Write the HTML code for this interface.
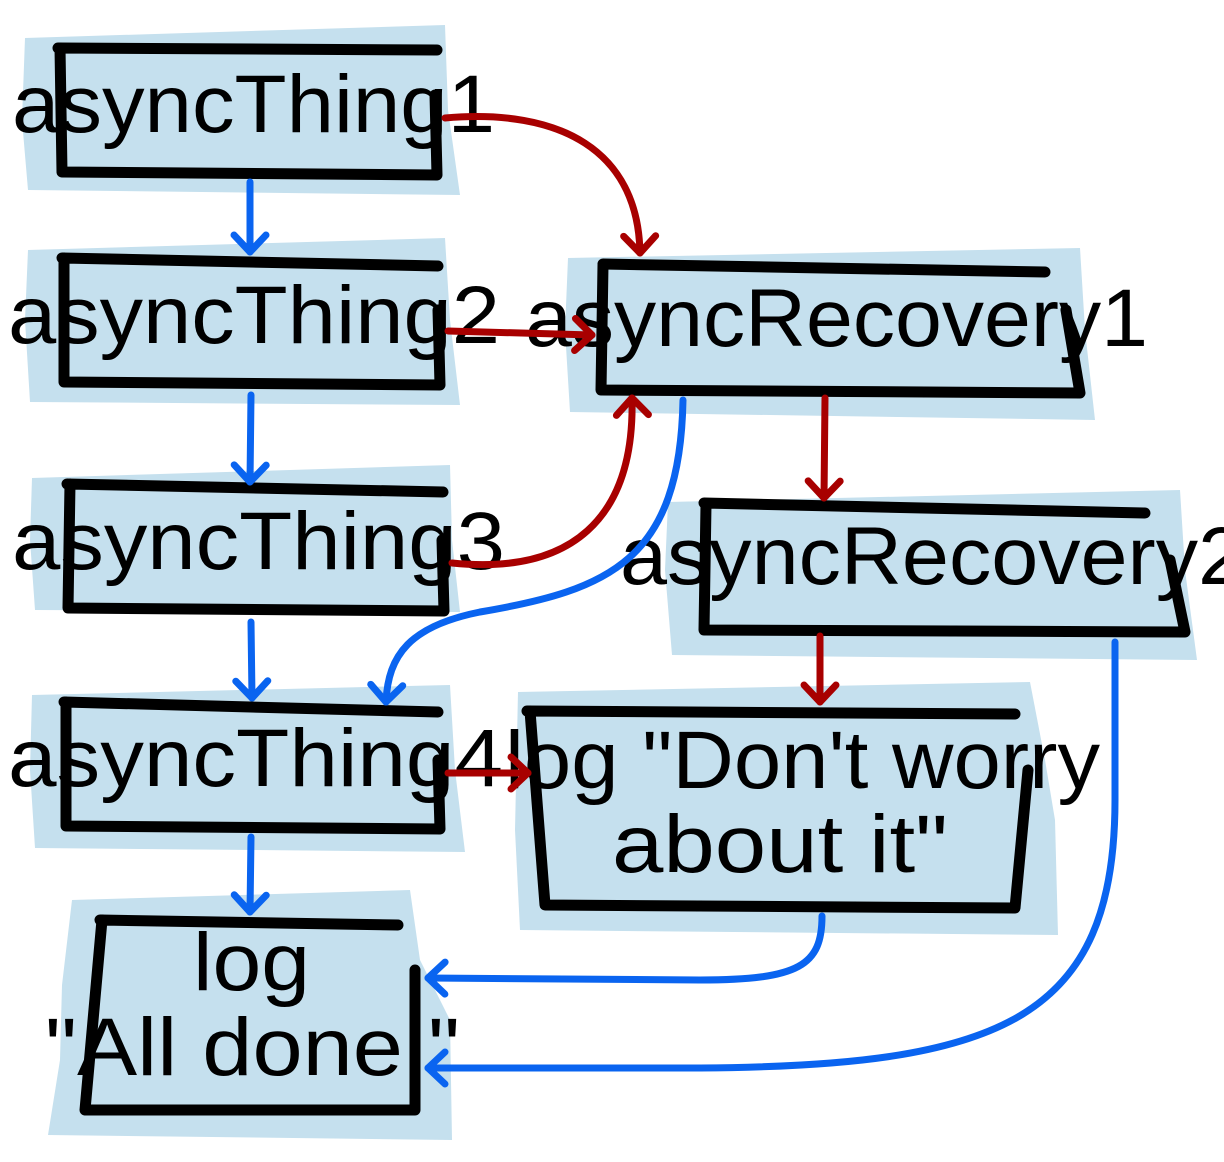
<!DOCTYPE html>
<html><head><meta charset="utf-8"><style>html,body{margin:0;padding:0;background:#fff}svg{display:block}</style></head>
<body>
<svg width="1224" height="1162" viewBox="0 0 1224 1162" xmlns="http://www.w3.org/2000/svg">
<defs>
<marker id="ab" viewBox="-30 -30 60 60" refX="0" refY="0" markerWidth="60" markerHeight="60" markerUnits="userSpaceOnUse" orient="auto" overflow="visible">
<path d="M-17,-16 L0,0 L-17,16" fill="none" stroke="#0a64f0" stroke-width="7" stroke-linecap="round" stroke-linejoin="round"/>
</marker>
<marker id="ar" viewBox="-30 -30 60 60" refX="0" refY="0" markerWidth="60" markerHeight="60" markerUnits="userSpaceOnUse" orient="auto" overflow="visible">
<path d="M-17,-16 L0,0 L-17,16" fill="none" stroke="#a80000" stroke-width="7" stroke-linecap="round" stroke-linejoin="round"/>
</marker>
</defs>
<g fill="#c5e0ee">
<polygon points="25,38 445,25 448,110 460,195 28,190 22,120"/>
<polygon points="28,250 445,238 450,320 460,405 30,402 25,320"/>
<polygon points="32,478 450,465 452,540 460,612 35,610 30,540"/>
<polygon points="32,695 450,685 455,770 465,852 35,848 30,770"/>
<polygon points="72,900 410,890 420,960 450,1020 452,1140 48,1135 60,1060 62,985"/>
<polygon points="568,258 1080,248 1085,330 1095,420 570,412 565,330"/>
<polygon points="668,502 1180,490 1185,570 1197,660 672,655 665,570"/>
<polygon points="518,692 1030,682 1045,760 1055,820 1058,935 520,930 515,830"/>
</g>
<g fill="none" stroke="#000" stroke-width="11" stroke-linejoin="round" stroke-linecap="round">
<path d="M58,48 L437,50 M60,48 L62,172 L437,175 L435,95"/>
<path d="M62,258 L438,266 M64,258 L64,382 L440,385 L438,310"/>
<path d="M67,484 L443,492 M70,484 L68,608 L444,611 L442,540"/>
<path d="M64,702 L438,712 M66,702 L66,826 L440,829 L438,760"/>
<path d="M100,920 L398,925 M102,920 L85,1110 L415,1110 L415,970"/>
<path d="M603,264 L1045,272 M603,265 L601,390 L1080,393 L1066,310"/>
<path d="M704,503 L1145,513 M706,505 L704,630 L1185,632 L1170,560"/>
<path d="M527,711 L1015,714 M530,711 L545,905 L1015,908 L1028,770"/>
</g>
<g font-family="'Liberation Sans', sans-serif" font-size="82" fill="#000">
<text x="12" y="132" textLength="483" lengthAdjust="spacingAndGlyphs">asyncThing1</text>
<text x="8" y="343" textLength="492" lengthAdjust="spacingAndGlyphs">asyncThing2</text>
<text x="12" y="569" textLength="493" lengthAdjust="spacingAndGlyphs">asyncThing3</text>
<text x="8" y="786" textLength="495" lengthAdjust="spacingAndGlyphs">asyncThing4</text>
<text x="525" y="346" textLength="623" lengthAdjust="spacingAndGlyphs">asyncRecovery1</text>
<text x="620" y="584" textLength="625" lengthAdjust="spacingAndGlyphs">asyncRecovery2</text>
<text x="505" y="788" textLength="595" lengthAdjust="spacingAndGlyphs">log "Don't worry</text>
<text x="612" y="872" textLength="336" lengthAdjust="spacingAndGlyphs">about it"</text>
<text x="193" y="990" textLength="117" lengthAdjust="spacingAndGlyphs">log</text>
<text x="45" y="1075" textLength="415" lengthAdjust="spacingAndGlyphs">"All done!"</text>
</g>
<g fill="none" stroke="#0a64f0" stroke-width="7" stroke-linecap="round">
<path d="M250,182 L250,252" marker-end="url(#ab)"/>
<path d="M251,395 L250,482" marker-end="url(#ab)"/>
<path d="M251,622 L252,698" marker-end="url(#ab)"/>
<path d="M251,837 L250,912" marker-end="url(#ab)"/>
<path d="M683,400 C680,560 610,590 480,612 C410,626 388,655 386,702" marker-end="url(#ab)"/>
<path d="M822,916 C822,965 800,980 700,980 L428,978" marker-end="url(#ab)"/>
<path d="M1115,642 L1115,800 C1115,1020 1000,1066 700,1068 L428,1068" marker-end="url(#ab)"/>
</g>
<g fill="none" stroke="#a80000" stroke-width="7" stroke-linecap="round">
<path d="M445,118 C560,108 638,150 640,253" marker-end="url(#ar)"/>
<path d="M448,331 L592,335" marker-end="url(#ar)"/>
<path d="M452,563 C570,575 635,520 632,398" marker-end="url(#ar)"/>
<path d="M825,398 L824,498" marker-end="url(#ar)"/>
<path d="M820,636 L820,702" marker-end="url(#ar)"/>
<path d="M448,773 L528,773" marker-end="url(#ar)"/>
</g>
</svg>
</body></html>
